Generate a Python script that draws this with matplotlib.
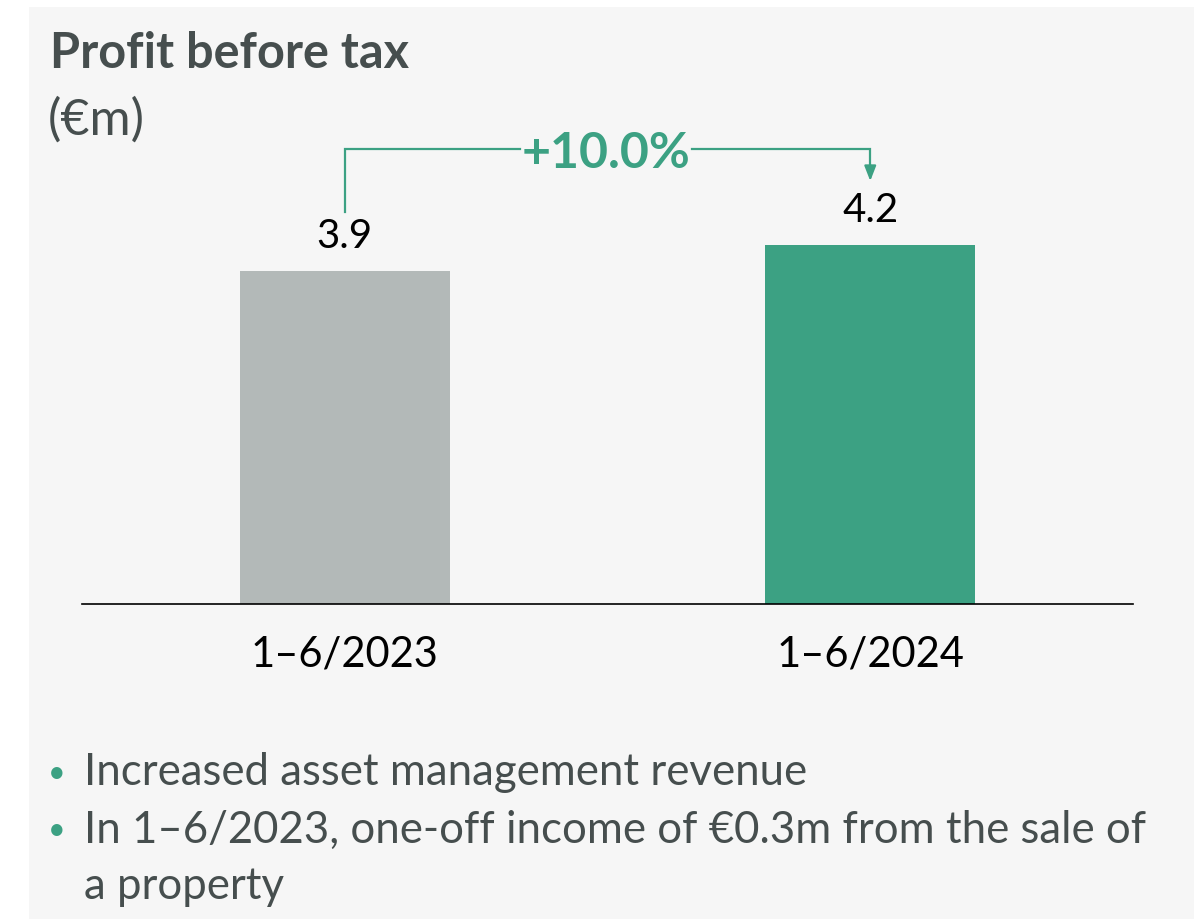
import matplotlib
matplotlib.use("Agg")
import matplotlib.pyplot as plt
from matplotlib.patches import Rectangle

# Data
periods = ["1–6/2023", "1–6/2024"]
profit = [3.9, 4.2]
change_label = "+10.0%"
title = "Profit before tax"
unit = "(€m)"
notes = [
    ["Increased asset management revenue"],
    ["In 1–6/2023, one-off income of €0.3m from the sale of", "a property"],
]

# Styling
W, H = 1204, 920
DPI = 100
PANEL = "#f6f6f6"
GREY_BAR = "#b3b9b8"
GREEN = "#3ca183"
DARK = "#464e4e"
FONT = "Lato"

fig = plt.figure(figsize=(W / DPI, H / DPI), dpi=DPI, facecolor="white")


def fx(px):
    return px / W


def fy(py):
    return 1 - py / H


# Light panel behind the chart
fig.patches.append(Rectangle((fx(29), fy(920)), fx(1194) - fx(29), fy(8) - fy(920),
                             transform=fig.transFigure, facecolor=PANEL,
                             edgecolor="none", zorder=-10))

# Title and unit
fig.text(fx(50), fy(54), title, fontsize=35, fontweight="bold", color=DARK,
         family=FONT, va="center", ha="left")
fig.text(fx(48), fy(120), unit, fontsize=36, color=DARK, family=FONT,
         va="center", ha="left")

# Axes: baseline at y=605px, spanning x=82..1133px
ax_left, ax_right = 82, 1133
ax_bottom, ax_top = 605, 100
ax = fig.add_axes([fx(ax_left), fy(ax_bottom), fx(ax_right) - fx(ax_left),
                   fy(ax_top) - fy(ax_bottom)])
ax.set_facecolor("none")
ax.set_zorder(1)
px_per_unit = 359 / 4.2
ax.set_ylim(0, (ax_bottom - ax_top) / px_per_unit)
ax.set_xlim(-0.5, 1.5)

x = list(range(len(periods)))
ax.bar(x, profit, width=0.4, color=[GREY_BAR, GREEN], zorder=2)

for xi, v in zip(x, profit):
    ax.annotate(f"{v:.1f}", (xi, v), xytext=(0, 12), textcoords="offset points",
                ha="center", va="bottom", fontsize=29, color="black", family=FONT)

ax.set_xticks(x, periods)
ax.tick_params(axis="x", length=0, pad=22, labelsize=30, labelcolor="black")
for lab in ax.get_xticklabels():
    lab.set_family(FONT)
ax.set_yticks([])
for s in ["left", "right", "top"]:
    ax.spines[s].set_visible(False)
ax.spines["bottom"].set_color("black")
ax.spines["bottom"].set_linewidth(1.2)
ax.spines["bottom"].set_zorder(3)


def dy(py):
    return (ax_bottom - py) / px_per_unit


# Growth bracket from the first bar to the second
bracket_y = dy(150)
gap_l, gap_r = 0.333, 0.661
ax.plot([0, 0, gap_l], [dy(213), bracket_y, bracket_y], color=GREEN, lw=1.6,
        clip_on=False, solid_joinstyle="miter")
ax.plot([gap_r, 1, 1], [bracket_y, bracket_y, dy(168)], color=GREEN, lw=1.6,
        clip_on=False, solid_joinstyle="miter")
ax.annotate("", xy=(1, dy(182)), xytext=(1, dy(166)),
            arrowprops=dict(arrowstyle="-|>,head_length=0.9,head_width=0.35",
                            color=GREEN, lw=1.6, shrinkA=0, shrinkB=0),
            annotation_clip=False)
ax.text(0.5 * (gap_l + gap_r), dy(153), change_label, ha="center", va="center",
        fontsize=36, fontweight="bold", color=GREEN, family=FONT)

# Bullet notes
line_y = 773
for note in notes:
    fig.text(fx(57), fy(line_y), "•", fontsize=22, color=GREEN, family=FONT,
             ha="center", va="center")
    for line in note:
        fig.text(fx(84), fy(line_y), line, fontsize=31.5, color=DARK, family=FONT,
                 ha="left", va="center")
        line_y += 57

fig.savefig("out.png", dpi=DPI, facecolor="white")
